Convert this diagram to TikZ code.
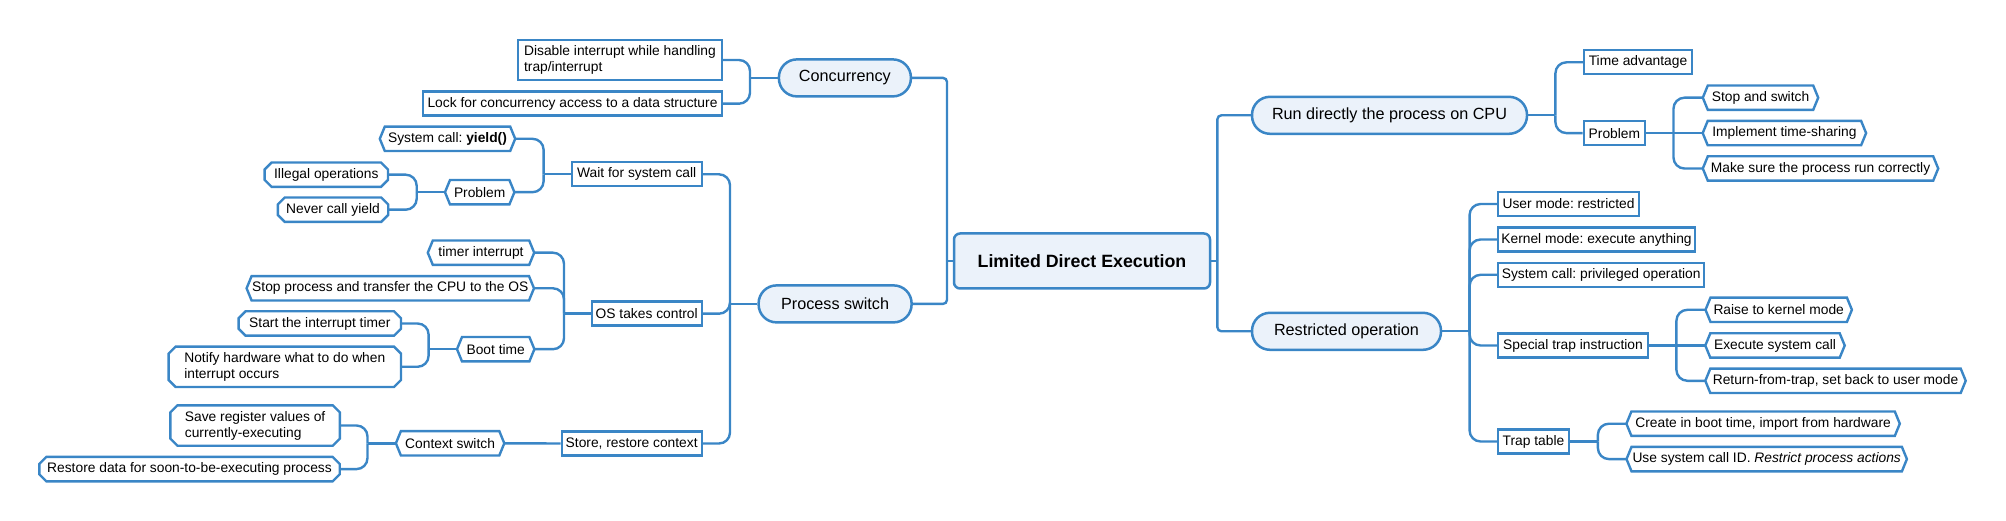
\documentclass[tikz,border=0pt]{standalone}
\usepackage{fontspec}
\setmainfont{Liberation Sans}
\usepackage{tikz}
\usetikzlibrary{positioning}
\definecolor{mapBlue}{RGB}{58,134,198}
\definecolor{mapFill}{RGB}{235,242,250}
\newcommand{\mapfont}{\fontsize{13.8}{16}\selectfont}
\frenchspacing

\begin{document}
\begin{tikzpicture}[x=1pt,y=-1pt]

          \tikzstyle{rootNode} = [draw=mapBlue, line width=2.5pt, fill=mapFill, rounded corners=6pt, font=\bfseries\fontsize{17.8}{21}\selectfont, minimum height=55pt];
          \tikzstyle{mainNode} = [draw=mapBlue, line width=2.5pt, fill=mapFill, rounded corners=18pt, font=\fontsize{16.2}{19}\selectfont, minimum height=37pt];
          \tikzstyle{rectNode} = [draw=mapBlue, line width=2.4pt, fill=white, font=\mapfont, minimum height=24pt, inner xsep=2pt];
          \tikzstyle{hexNode} = [font=\mapfont, minimum height=24pt, inner xsep=2pt,
            append after command={\pgfextra{\draw[mapBlue, line width=2.4pt]
              (\tikzlastnode.west) -- ([xshift=5pt]\tikzlastnode.north west) -- ([xshift=-5pt]\tikzlastnode.north east)
              -- (\tikzlastnode.east) -- ([xshift=-5pt]\tikzlastnode.south east) -- ([xshift=5pt]\tikzlastnode.south west) -- cycle;}}];
          \tikzstyle{octNode} = [font=\mapfont, minimum height=24pt, inner xsep=2pt,
            append after command={\pgfextra{\draw[mapBlue, line width=2.4pt]
              ([xshift=7pt]\tikzlastnode.north west) -- ([xshift=-7pt]\tikzlastnode.north east) -- ([yshift=-7pt]\tikzlastnode.north east)
              -- ([yshift=7pt]\tikzlastnode.south east) -- ([xshift=-7pt]\tikzlastnode.south east) -- ([xshift=7pt]\tikzlastnode.south west)
              -- ([yshift=7pt]\tikzlastnode.south west) -- ([yshift=-7pt]\tikzlastnode.north west) -- cycle;}}];

          \tikzstyle{rootEdge} = [draw=mapBlue, line width=2.4pt, rounded corners=4pt];
          \tikzstyle{normalEdge} = [draw=mapBlue, line width=2.4pt, rounded corners=11pt];

          \useasboundingbox (0,0) rectangle (2006,521);

          % centre and main topics
          \node[rootNode, minimum width=256pt] (root) at (1082,261) {Limited Direct Execution};
          \node[mainNode, minimum width=132pt] (conc) at (844.9,77.9) {Concurrency};
          \node[mainNode, minimum width=153pt] (procsw) at (835.1,303.9) {Process switch};
          \node[mainNode, minimum width=275pt] (rundir) at (1389.5,115.3) {Run directly the process on CPU};
          \node[mainNode, minimum width=189pt] (restr) at (1346.5,331.3) {Restricted operation};

          % concurrency
          \node[rectNode, minimum width=204pt, minimum height=40pt, align=left] (disable) at (620,60) {Disable interrupt while handling\\trap/interrupt};
          \node[rectNode, minimum width=299pt] (lock) at (572.5,103.7) {Lock for concurrency access to a data structure};

          % process switch
          \node[rectNode, minimum width=130pt] (wait) at (636.7,174.3) {Wait for system call};
          \node[rectNode, minimum width=110pt] (ostake) at (646.7,313.7) {OS takes control};
          \node[rectNode, minimum width=140pt] (store) at (631.7,443.5) {Store, restore context};

          \node[hexNode, minimum width=135pt] (yield) at (447.5,138.8) {System call: \textbf{yield()}};
          \node[hexNode, minimum width=69pt] (probL) at (479.7,192.2) {Problem};
          \node[octNode, minimum width=123pt] (illegal) at (326.3,174.7) {Illegal operations};
          \node[octNode, minimum width=110pt] (never) at (333,209.7) {Never call yield};

          \node[hexNode, minimum width=106pt] (timer) at (481,252.7) {timer interrupt};
          \node[hexNode, minimum width=287pt] (stopproc) at (390.3,288.3) {Stop process and transfer the CPU to the OS};
          \node[hexNode, minimum width=77pt] (boot) at (495.7,349.2) {Boot time};
          \node[octNode, minimum width=162pt] (start) at (319.8,323.5) {Start the interrupt timer};
          \node[octNode, minimum width=232pt, minimum height=40pt, align=left] (notify) at (284.8,366.8) {Notify hardware what to do when\\interrupt occurs};

          \node[hexNode, minimum width=108pt] (ctx) at (450.1,443.3) {Context switch};
          \node[octNode, minimum width=169pt, minimum height=40pt, align=left] (save) at (255.1,425.5) {Save register values of\\currently-executing};
          \node[octNode, minimum width=300pt] (restore) at (189.5,469.1) {Restore data for soon-to-be-executing process};

          % run directly
          \node[rectNode, minimum width=108pt] (timeadv) at (1638,62.3) {Time advantage};
          \node[rectNode, minimum width=61pt] (probR) at (1614.4,133.1) {Problem};
          \node[hexNode, minimum width=115pt] (stopsw) at (1760.5,97.7) {Stop and switch};
          \node[hexNode, minimum width=163pt] (impl) at (1784.4,133.1) {Implement time-sharing};
          \node[hexNode, minimum width=235pt] (make) at (1820.5,168.5) {Make sure the process run correctly};

          % restricted operation
          \node[rectNode, minimum width=141pt] (user) at (1568.5,204) {User mode: restricted};
          \node[rectNode, minimum width=197pt] (kernel) at (1596.5,239.5) {Kernel mode: execute anything};
          \node[rectNode, minimum width=206pt] (syscall) at (1601.2,274.8) {System call: privileged operation};
          \node[rectNode, minimum width=150pt] (special) at (1573,345.5) {Special trap instruction};
          \node[rectNode, minimum width=71pt] (traptab) at (1533.5,441.5) {Trap table};
          \node[hexNode, minimum width=146pt] (raise) at (1778.7,309.8) {Raise to kernel mode};
          \node[hexNode, minimum width=139pt] (exec) at (1775,345.5) {Execute system call};
          \node[hexNode, minimum width=260pt] (ret) at (1835.5,380.8) {Return-from-trap, set back to user mode};
          \node[hexNode, minimum width=273pt] (create) at (1763.1,423.7) {Create in boot time, import from hardware};
          \node[hexNode, minimum width=280pt] (usesc) at (1766.7,459.1) {Use system call ID. \textit{Restrict process actions}};

          % junctions
          \coordinate (rootL) at (947,261);
          \coordinate (rootR) at (1217.4,261);
          \coordinate (concJ) at (750,77.9);
          \coordinate (psJ) at (730,303.9);
          \coordinate (waitJ) at (543.6,174.3);
          \coordinate (probLJ) at (416.7,192.2);
          \coordinate (osJ) at (564,313.7);
          \coordinate (bootJ) at (428.6,349.2);
          \coordinate (ctxJ) at (367.5,443.3);
          \coordinate (runJ) at (1555.4,115.3);
          \coordinate (probRJ) at (1673.5,133.1);
          \coordinate (restrJ) at (1469.6,331.3);
          \coordinate (specJ) at (1676.4,345.5);
          \coordinate (trapJ) at (1597.9,441.5);

          \draw[rootEdge] (root.west) -- (rootL);
          \draw[rootEdge] (rootL) |- (conc.east);
          \draw[rootEdge] (rootL) |- (procsw.east);
          \draw[rootEdge] (root.east) -- (rootR);
          \draw[rootEdge] (rootR) |- (rundir.west);
          \draw[rootEdge] (rootR) |- (restr.west);

          \draw[normalEdge] (conc.west) -- (concJ);
          \draw[normalEdge] (concJ) |- (disable.east);
          \draw[normalEdge] (concJ) |- (lock.east);

          \draw[normalEdge] (procsw.west) -- (psJ);
          \draw[normalEdge] (psJ) |- (wait.east);
          \draw[normalEdge] (psJ) |- (ostake.east);
          \draw[normalEdge] (psJ) |- (store.east);

          \draw[normalEdge] (wait.west) -- (waitJ);
          \draw[normalEdge] (waitJ) |- (yield.east);
          \draw[normalEdge] (waitJ) |- (probL.east);
          \draw[normalEdge] (probL.west) -- (probLJ);
          \draw[normalEdge] (probLJ) |- (illegal.east);
          \draw[normalEdge] (probLJ) |- (never.east);

          \draw[normalEdge] (ostake.west) -- (osJ);
          \draw[normalEdge] (osJ) |- (timer.east);
          \draw[normalEdge] (osJ) |- (stopproc.east);
          \draw[normalEdge] (osJ) |- (boot.east);
          \draw[normalEdge] (boot.west) -- (bootJ);
          \draw[normalEdge] (bootJ) |- (start.east);
          \draw[normalEdge] (bootJ) |- (notify.east);

          \draw[normalEdge] (store.west) -- (ctx.east);
          \draw[normalEdge] (ctx.west) -- (ctxJ);
          \draw[normalEdge] (ctxJ) |- (save.east);
          \draw[normalEdge] (ctxJ) |- (restore.east);

          \draw[normalEdge] (rundir.east) -- (runJ);
          \draw[normalEdge] (runJ) |- (timeadv.west);
          \draw[normalEdge] (runJ) |- (probR.west);
          \draw[normalEdge] (probR.east) -- (impl.west);
          \draw[normalEdge] (probRJ) |- (stopsw.west);
          \draw[normalEdge] (probRJ) |- (make.west);

          \draw[normalEdge] (restr.east) -- (restrJ);
          \draw[normalEdge] (restrJ) |- (user.west);
          \draw[normalEdge] (restrJ) |- (kernel.west);
          \draw[normalEdge] (restrJ) |- (syscall.west);
          \draw[normalEdge] (restrJ) |- (special.west);
          \draw[normalEdge] (restrJ) |- (traptab.west);
          \draw[normalEdge] (special.east) -- (exec.west);
          \draw[normalEdge] (specJ) |- (raise.west);
          \draw[normalEdge] (specJ) |- (ret.west);
          \draw[normalEdge] (traptab.east) -- (trapJ);
          \draw[normalEdge] (trapJ) |- (create.west);
          \draw[normalEdge] (trapJ) |- (usesc.west);
        \end{tikzpicture}
\end{document}
